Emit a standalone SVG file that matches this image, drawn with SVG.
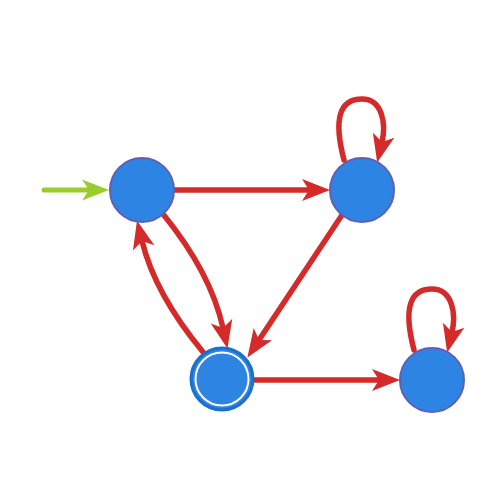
<svg xmlns="http://www.w3.org/2000/svg" width="490" height="486" viewBox="0 0 490 486">
<style>
.node{fill:#2e84e3;stroke:#5f5fb8;stroke-width:2}
.acc{fill:#2e84e3;stroke:#1b70cc;stroke-width:3}
.ring{fill:none;stroke:#ffffff;stroke-width:2}
.e{fill:none;stroke:#d42a2a;stroke-width:5.5;stroke-linecap:round}
.init{fill:none;stroke:#9acd2a;stroke-width:5;stroke-linecap:round}
</style>
<defs>
<marker id="ar" markerUnits="userSpaceOnUse" markerWidth="30" markerHeight="26" viewBox="0 -13 30 26" refX="7" refY="0" orient="auto">
<path d="M0,-11 L28,0 L0,11 L7,0 Z" fill="#d42a2a"/>
</marker>
<marker id="ag" markerUnits="userSpaceOnUse" markerWidth="30" markerHeight="26" viewBox="0 -13 30 26" refX="7" refY="0" orient="auto">
<path d="M0,-10.5 L27,0 L0,10.5 L7,0 Z" fill="#9acd2a"/>
</marker>
</defs>
<g id="edges">
<path class="init" d="M44,190 L89,190" marker-end="url(#ag)"/>
<path class="e" d="M175,190 L309,190" marker-end="url(#ar)"/>
<path class="e" d="M342,215 L259,340" marker-end="url(#ar)"/>
<path class="e" d="M163,214 Q211,273 223,328" marker-end="url(#ar)"/>
<path class="e" d="M203,352 Q155,294 142,241" marker-end="url(#ar)"/>
<path class="e" d="M254,380 L379,380" marker-end="url(#ar)"/>
<path class="e" d="M344,160 C333,118 340,99 362,99 C383,99 386,125 382,142" marker-end="url(#ar)"/>
<path class="e" d="M414,350 C403,308 410,289 432,289 C453,289 456,315 452,332" marker-end="url(#ar)"/>
</g>
<g id="q0"><circle class="node" cx="142" cy="190" r="32"/></g>
<g id="q1"><circle class="node" cx="362" cy="190" r="32"/></g>
<g id="q2"><circle class="acc" cx="222" cy="379" r="31"/><circle class="ring" cx="222" cy="379" r="26.5"/></g>
<g id="q3"><circle class="node" cx="432" cy="380" r="32"/></g>
</svg>
